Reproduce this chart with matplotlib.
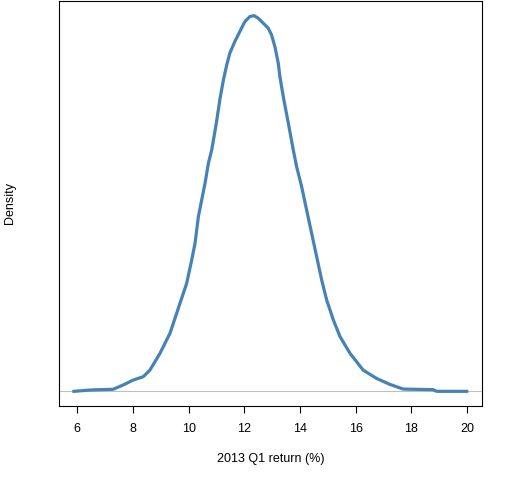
import matplotlib
matplotlib.use("Agg")
import matplotlib.pyplot as plt

returns = [5.88, 6.46, 7.29, 7.65, 8.01, 8.37, 8.61, 8.97, 9.33, 9.69, 9.93, 10.11, 10.23,
           10.35, 10.47, 10.59, 10.71, 10.83, 10.99, 11.13, 11.25, 11.37, 11.48, 11.66, 11.84,
           12.02, 12.20, 12.35, 12.50, 12.68, 12.86, 12.98, 13.10, 13.22, 13.28, 13.40, 13.58,
           13.76, 13.88, 14.06, 14.24, 14.42, 14.60, 14.78, 14.96, 15.20, 15.44, 15.80, 16.27,
           16.75, 17.23, 17.71, 18.79, 18.91, 19.99]
density = [0.0, 0.0007, 0.0011, 0.0034, 0.0060, 0.0078, 0.0113, 0.0202, 0.0309, 0.0469, 0.0575,
           0.0699, 0.0788, 0.0930, 0.1019, 0.1108, 0.1214, 0.1285, 0.1423, 0.1560, 0.1658,
           0.1738, 0.1800, 0.1862, 0.1915, 0.1968, 0.1995, 0.2000, 0.1986, 0.1960, 0.1933,
           0.1897, 0.1835, 0.1747, 0.1675, 0.1569, 0.1429, 0.1285, 0.1196, 0.1090, 0.0965,
           0.0841, 0.0717, 0.0593, 0.0486, 0.0380, 0.0291, 0.0202, 0.0113, 0.0069, 0.0037,
           0.0012, 0.0009, 0.0, 0.0]
xticks = [6, 8, 10, 12, 14, 16, 18, 20]

plt.rcParams['font.family'] = ['Liberation Sans', 'DejaVu Sans']

fig = plt.figure(figsize=(5.12, 4.8), dpi=100)
ax = fig.add_axes([0.1162, 0.1542, 0.8246, 0.8438])

ax.axhline(0, color='#bebebe', lw=0.8, zorder=1)
ax.plot(returns, density, color='#4682B4', lw=2.3, solid_joinstyle='round', zorder=2)

ax.set_xlim(5.36, 20.53)
ax.set_ylim(-0.0078, 0.2078)
ax.set_xticks(xticks)
ax.set_xticklabels([str(t) for t in xticks], fontsize=9)
ax.set_yticks([])
ax.tick_params(axis='x', direction='out', length=5, width=0.8, pad=7, colors='black')
for s in ax.spines.values():
    s.set_linewidth(0.8)
    s.set_color('black')

ax.set_xlabel('2013 Q1 return (%)', fontsize=9, labelpad=13)
fig.text(0.0195, 0.577, 'Density', rotation=90, fontsize=9, ha='center', va='center')

fig.savefig('out.png', dpi=100)
